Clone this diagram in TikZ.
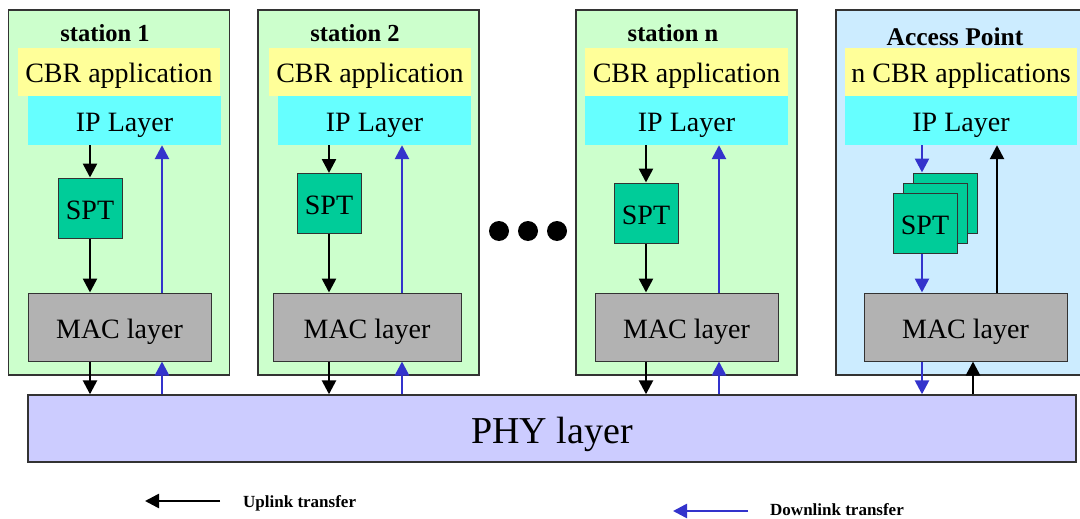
\documentclass[tikz,border=0pt]{standalone}
\usepackage{fontspec}
\setmainfont{Liberation Serif}
\usepackage{tikz}
\usetikzlibrary{arrows.meta}
\definecolor{StationGreen}{HTML}{CCFFCC}
\definecolor{ApBlue}      {HTML}{CCECFF}
\definecolor{AppYellow}   {HTML}{FFFF99}
\definecolor{IpCyan}      {HTML}{66FFFF}
\definecolor{SptGreen}    {HTML}{00CC99}
\definecolor{MacGrey}     {HTML}{B2B2B2}
\definecolor{PhyLilac}    {HTML}{CCCCFF}
\definecolor{DownBlue}    {HTML}{3333CC}
\definecolor{EdgeGrey}    {HTML}{333333}

\begin{document}
\begin{tikzpicture}[x=1pt, y=-1pt,
    layerbox/.style={inner sep=0pt, text height=22pt, text depth=0pt,
                     font=\fontsize{28}{30}\selectfont},
    stationbox/.style={layerbox, draw=EdgeGrey, line width=1.4pt, minimum height=365},
    stationlab/.style={font=\bfseries\fontsize{24.5}{26}\selectfont},
    appbox/.style={layerbox, fill=AppYellow, minimum height=48},
    ipbox/.style={layerbox, fill=IpCyan, minimum height=49},
    sptbox/.style={layerbox, fill=SptGreen, draw=EdgeGrey, line width=1pt,
                   minimum width=64, minimum height=60},
    macbox/.style={layerbox, fill=MacGrey, draw=EdgeGrey, line width=1pt, minimum height=68},
    uplink/.style={line width=2.6pt, -{Triangle[width=14pt,length=14pt]}},
    downlink/.style={uplink, DownBlue}]

  \useasboundingbox (0,0) rectangle (1080,519);
  \clip (0,0) rectangle (1080,519);

  % ===== STATIONS 1, 2, n =====
  \foreach \i/\sx/\labx/\lab/\cbrx/\cbrw/\ipx/\ipw/\sptx/\spty/\macx/\macw/\dlx in
     {1/119/105/station 1/119/202/124.5/193/90/208/119.5/183/162,
      2/368.5/355/station 2/370/202/374.5/193/329/203.5/367/188/402,
      n/686.5/673/station n/686.5/203/686.5/203/646/213/686.5/183/719}{
    \node[stationbox, fill=StationGreen, minimum width=221] (st\i) at (\sx,192.5) {};
    \node[stationlab] (lab\i) at (\labx,33) {\lab};
    \node[appbox, minimum width=\cbrw] (cbr\i) at (\cbrx,72) {CBR application};
    \node[ipbox, minimum width=\ipw] (ip\i) at (\ipx,120.5) {IP Layer};
    \node[sptbox] (spt\i) at (\sptx,\spty) {SPT};
    \node[macbox, minimum width=\macw] (mac\i) at (\macx,327) {MAC layer};
    \coordinate (dl\i) at (\dlx,0);
  }

  % ===== ACCESS POINT =====
  \node[stationbox, fill=ApBlue, minimum width=256] (stap) at (964,192.5) {};
  \node[stationlab, font=\bfseries\fontsize{25.5}{27}\selectfont] (labap) at (955,37) {Access Point};
  \node[appbox, minimum width=232] (cbrap) at (961,72) {n CBR applications};
  \node[ipbox, minimum width=232] (ipap) at (961,120.5) {IP Layer};
  % stacked SPT queues
  \node[sptbox] (sptc) at (945,203) {};
  \node[sptbox] (sptb) at (935,213) {};
  \node[sptbox] (sptap) at (925,223) {SPT};
  \node[macbox, minimum width=203] (macap) at (965.5,327) {MAC layer};
  \coordinate (dlap) at (922,0);
  \coordinate (ulap) at (997,0);
  \coordinate (ulphy) at (973,0);

  % ===== PHY LAYER =====
  \node[layerbox, fill=PhyLilac, draw=EdgeGrey, line width=1.4pt,
        minimum width=1048, minimum height=67, text height=29pt,
        font=\fontsize{38}{42}\selectfont]
        (phy) at (552,428.5) {PHY layer};

  % ===== ARROWS IN THE STATIONS =====
  \foreach \i in {1,2,n}{
    \draw[uplink] (ip\i.south -| spt\i) -- (spt\i.north);
    \draw[uplink] (spt\i.south) -- (mac\i.north -| spt\i);
    \draw[uplink] (mac\i.south -| spt\i) -- (phy.north -| spt\i);
    \draw[downlink] (phy.north -| dl\i) -- (mac\i.south -| dl\i);
    \draw[downlink] (mac\i.north -| dl\i) -- (ip\i.south -| dl\i);
  }

  % ===== ARROWS IN THE ACCESS POINT =====
  \draw[downlink] (ipap.south -| dlap) -- (sptc.north -| dlap);
  \draw[downlink] (sptap.south -| dlap) -- (macap.north -| dlap);
  \draw[downlink] (macap.south -| dlap) -- (phy.north -| dlap);
  \draw[uplink] (phy.north -| ulphy) -- (macap.south -| ulphy);
  \draw[uplink] (macap.north -| ulap) -- (ipap.south -| ulap);

  % ===== DOTS =====
  \foreach \x in {499,528,557}{
    \fill[black] (\x,231) circle (10);
  }

  % ===== LEGEND =====
  \coordinate (uptail) at (220,501);
  \coordinate (uphead) at (145,501);
  \draw[uplink] (uptail) -- (uphead);
  \node[anchor=west, font=\bfseries\fontsize{17}{20}\selectfont, inner sep=0pt]
        (uptext) at (243,503) {Uplink transfer};
  \coordinate (dntail) at (748,511);
  \coordinate (dnhead) at (673,511);
  \draw[downlink] (dntail) -- (dnhead);
  \node[anchor=west, font=\bfseries\fontsize{17}{20}\selectfont, inner sep=0pt]
        (dntext) at (770,510) {Downlink transfer};

\end{tikzpicture}
\end{document}
